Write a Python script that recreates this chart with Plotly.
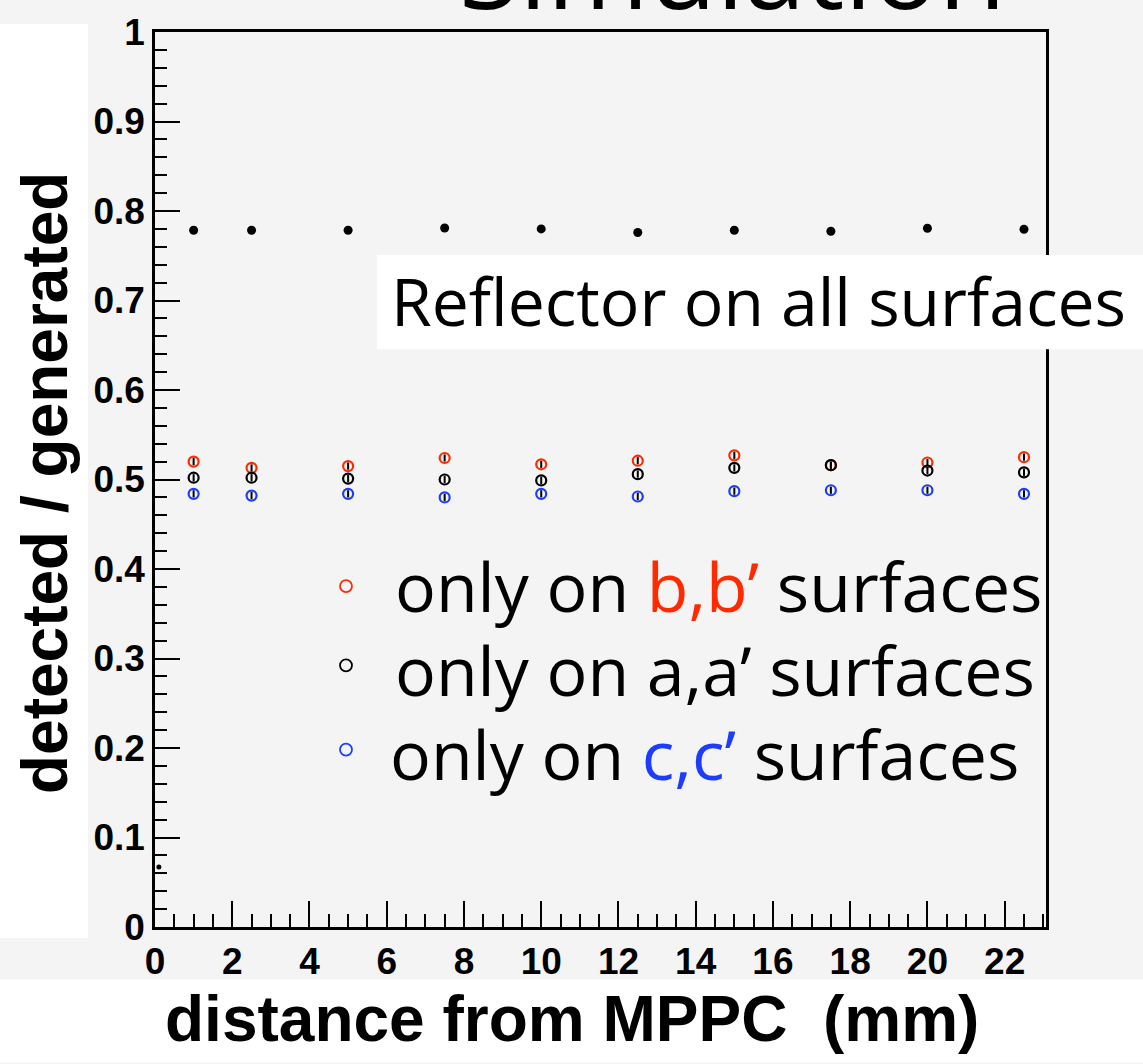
import plotly.graph_objects as go

# distances from the MPPC (mm)
distance = [1, 2.5, 5, 7.5, 10, 12.5, 15, 17.5, 20, 22.5]

# detected / generated photon fraction for each reflector configuration
all_surfaces = [0.7785, 0.7785, 0.7785, 0.781, 0.780, 0.776, 0.7785, 0.7774, 0.7807, 0.7796]
only_bb = [0.520, 0.513, 0.515, 0.524, 0.517, 0.521, 0.527, 0.516, 0.519, 0.525]
only_aa = [0.502, 0.502, 0.501, 0.500, 0.499, 0.506, 0.513, 0.516, 0.510, 0.508]
only_cc = [0.484, 0.482, 0.484, 0.480, 0.484, 0.481, 0.487, 0.488, 0.488, 0.484]
stat_err = [0.004] * 10

# a lone entry near the origin
extra_x = [0.1]
extra_y = [0.067]

x_ticks = list(range(0, 23, 2))
y_ticks = [0, 0.1, 0.2, 0.3, 0.4, 0.5, 0.6, 0.7, 0.8, 0.9, 1.0]
y_tick_text = ["0", "0.1", "0.2", "0.3", "0.4", "0.5", "0.6", "0.7", "0.8", "0.9", "1"]

RED = "#ff2a00"
BLUE = "#1c3cff"
BLACK = "#000000"
BG = "#f4f4f4"
TEXT_FONT = "Open Sans"
AXIS_FONT = "Liberation Sans"

W, H = 1143, 1064
L, R, T, B = 155, 97, 24, 137
PW, PH = W - L - R, H - T - B


def px(xp):
    return (xp - L) / PW


def py(yp):
    return (H - B - yp) / PH


fig = go.Figure()

err = dict(type="data", array=stat_err, color=BLACK, thickness=2, width=0)

fig.add_trace(go.Scatter(x=distance, y=all_surfaces, mode="markers",
                         marker=dict(symbol="circle", size=9, color=BLACK),
                         showlegend=False))
for vals, col in [(only_bb, RED), (only_aa, BLACK), (only_cc, BLUE)]:
    fig.add_trace(go.Scatter(x=distance, y=vals, mode="markers",
                             marker=dict(symbol="circle-open", size=10,
                                         color=col, line=dict(width=2.2, color=col)),
                             error_y=err, showlegend=False))
fig.add_trace(go.Scatter(x=extra_x, y=extra_y, mode="markers",
                         marker=dict(symbol="circle", size=5, color=BLACK),
                         showlegend=False))

axis_common = dict(
    showgrid=False, zeroline=False, showline=True, linecolor=BLACK, linewidth=2.5,
    mirror=True, ticks="inside", tickcolor=BLACK, tickwidth=2,
    tickfont=dict(family=AXIS_FONT, size=37, color=BLACK, weight="bold"),
)

fig.update_xaxes(range=[0, 23.07], tickvals=x_ticks, ticklen=26,
                 minor=dict(dtick=0.5, ticks="inside", ticklen=13, tickwidth=2,
                            tickcolor=BLACK, showgrid=False),
                 **axis_common)
fig.update_yaxes(range=[0, 1], tickvals=y_ticks, ticktext=y_tick_text, ticklen=25,
                 minor=dict(dtick=0.02, ticks="inside", ticklen=12, tickwidth=2,
                            tickcolor=BLACK, showgrid=False),
                 **axis_common)

shapes = [
    # white margins of the canvas
    dict(type="rect", xref="paper", yref="paper", x0=px(0), x1=px(88), y0=py(938), y1=py(16),
         fillcolor="white", line=dict(width=0), layer="below"),
    dict(type="rect", xref="paper", yref="paper", x0=px(0), x1=px(W), y0=py(H), y1=py(980),
         fillcolor="white", line=dict(width=0), layer="below"),
    # box behind the reflector label
    dict(type="rect", xref="paper", yref="paper", x0=px(377), x1=px(W + 5), y0=py(344), y1=py(249),
         fillcolor="white", line=dict(width=0), layer="above"),
]

# legend glyphs
for yc, col in [(583, RED), (663, BLACK), (748, BLUE)]:
    shapes.append(dict(type="circle", xref="paper", yref="paper",
                       xsizemode="pixel", ysizemode="pixel",
                       xanchor=px(346), yanchor=py(yc),
                       x0=-6, x1=6, y0=-6, y1=6,
                       line=dict(color=col, width=1.8), fillcolor="rgba(0,0,0,0)",
                       layer="above"))

annotations = [
    dict(text="Simulation", x=px(732), y=py(-43), xref="paper", yref="paper",
         xanchor="center", yanchor="middle", showarrow=False,
         font=dict(family=TEXT_FONT, size=110, color=BLACK)),
    dict(text="Reflector on all surfaces", x=px(389), y=py(294), xref="paper", yref="paper",
         xanchor="left", yanchor="middle", showarrow=False,
         font=dict(family=TEXT_FONT, size=66, color=BLACK)),
    dict(text=f'only on <span style="color:{RED}">b,b’</span> surfaces',
         x=px(393), y=py(582), xref="paper", yref="paper",
         xanchor="left", yanchor="middle", showarrow=False,
         font=dict(family=TEXT_FONT, size=68, color=BLACK)),
    dict(text="only on a,a’ surfaces",
         x=px(393), y=py(667), xref="paper", yref="paper",
         xanchor="left", yanchor="middle", showarrow=False,
         font=dict(family=TEXT_FONT, size=68, color=BLACK)),
    dict(text=f'only on <span style="color:{BLUE}">c,c’</span> surfaces',
         x=px(388), y=py(752), xref="paper", yref="paper",
         xanchor="left", yanchor="middle", showarrow=False,
         font=dict(family=TEXT_FONT, size=68, color=BLACK)),
    dict(text="distance from MPPC\u00a0\u00a0(mm)", x=px(572), y=py(1020), xref="paper", yref="paper",
         xanchor="center", yanchor="middle", showarrow=False,
         font=dict(family=AXIS_FONT, size=64, color=BLACK, weight="bold")),
    dict(text="detected / generated", x=px(45), y=py(479), xref="paper", yref="paper",
         xanchor="center", yanchor="middle", showarrow=False, textangle=-90,
         font=dict(family=AXIS_FONT, size=64, color=BLACK, weight="bold")),
]

fig.update_layout(
    width=W, height=H, autosize=False,
    margin=dict(l=L, r=R, t=T, b=B, pad=0),
    paper_bgcolor=BG, plot_bgcolor=BG,
    shapes=shapes, annotations=annotations,
    showlegend=False,
)

fig.write_html("out.html")
